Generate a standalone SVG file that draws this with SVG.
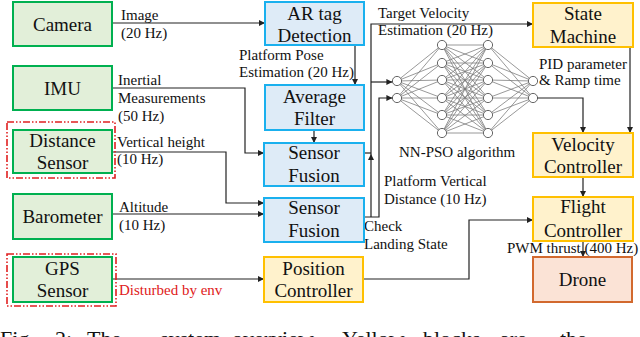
<svg xmlns="http://www.w3.org/2000/svg" width="640" height="337" viewBox="0 0 640 337">
<style>
  text { font-family: "Liberation Serif", "Times New Roman", serif; fill: #111; }
  .nl { font-size: 19px; text-anchor: middle; }
  .el { font-size: 15px; }
  .red { fill: #e02020; }
  .g { fill: #e2efd9; stroke: #00b050; stroke-width: 2; }
  .b { fill: #deebf7; stroke: #1ab0ee; stroke-width: 2; }
  .y { fill: #fff2cc; stroke: #ffc000; stroke-width: 2; }
  .o { fill: #fbe3d6; stroke: #d2692e; stroke-width: 2; }
  .dd { fill: none; stroke: #e02020; stroke-width: 1.6; stroke-dasharray: 7 2 1.5 2 1.5 2; }
  .c { fill: none; stroke: #222; stroke-width: 1.2; }
  .nn line { stroke: #777; stroke-width: 0.75; }
  .nn circle { fill: #fff; stroke: #666; stroke-width: 1; }
  .cap { font-size: 22px; }
</style>
<defs>
  <marker id="ah" viewBox="0 0 10 10" refX="10" refY="5" markerWidth="7" markerHeight="6" markerUnits="userSpaceOnUse" orient="auto">
    <path d="M0,0 L10,5 L0,10 z" fill="#222"/>
  </marker>
</defs>

<!-- Neural network -->
<g id="nn" class="nn">
  <g id="nn-links">
    <line x1="397" y1="81" x2="442" y2="45"/><line x1="397" y1="81" x2="442" y2="63"/><line x1="397" y1="81" x2="442" y2="80"/><line x1="397" y1="81" x2="442" y2="98"/><line x1="397" y1="81" x2="442" y2="115"/><line x1="397" y1="81" x2="442" y2="133"/>
    <line x1="397" y1="98" x2="442" y2="45"/><line x1="397" y1="98" x2="442" y2="63"/><line x1="397" y1="98" x2="442" y2="80"/><line x1="397" y1="98" x2="442" y2="98"/><line x1="397" y1="98" x2="442" y2="115"/><line x1="397" y1="98" x2="442" y2="133"/>
    <line x1="442" y1="45" x2="488" y2="45"/><line x1="442" y1="45" x2="488" y2="63"/><line x1="442" y1="45" x2="488" y2="80"/><line x1="442" y1="45" x2="488" y2="98"/><line x1="442" y1="45" x2="488" y2="115"/><line x1="442" y1="45" x2="488" y2="133"/>
    <line x1="442" y1="63" x2="488" y2="45"/><line x1="442" y1="63" x2="488" y2="63"/><line x1="442" y1="63" x2="488" y2="80"/><line x1="442" y1="63" x2="488" y2="98"/><line x1="442" y1="63" x2="488" y2="115"/><line x1="442" y1="63" x2="488" y2="133"/>
    <line x1="442" y1="80" x2="488" y2="45"/><line x1="442" y1="80" x2="488" y2="63"/><line x1="442" y1="80" x2="488" y2="80"/><line x1="442" y1="80" x2="488" y2="98"/><line x1="442" y1="80" x2="488" y2="115"/><line x1="442" y1="80" x2="488" y2="133"/>
    <line x1="442" y1="98" x2="488" y2="45"/><line x1="442" y1="98" x2="488" y2="63"/><line x1="442" y1="98" x2="488" y2="80"/><line x1="442" y1="98" x2="488" y2="98"/><line x1="442" y1="98" x2="488" y2="115"/><line x1="442" y1="98" x2="488" y2="133"/>
    <line x1="442" y1="115" x2="488" y2="45"/><line x1="442" y1="115" x2="488" y2="63"/><line x1="442" y1="115" x2="488" y2="80"/><line x1="442" y1="115" x2="488" y2="98"/><line x1="442" y1="115" x2="488" y2="115"/><line x1="442" y1="115" x2="488" y2="133"/>
    <line x1="442" y1="133" x2="488" y2="45"/><line x1="442" y1="133" x2="488" y2="63"/><line x1="442" y1="133" x2="488" y2="80"/><line x1="442" y1="133" x2="488" y2="98"/><line x1="442" y1="133" x2="488" y2="115"/><line x1="442" y1="133" x2="488" y2="133"/>
    <line x1="488" y1="45" x2="533" y2="81"/><line x1="488" y1="63" x2="533" y2="81"/><line x1="488" y1="80" x2="533" y2="81"/><line x1="488" y1="98" x2="533" y2="81"/><line x1="488" y1="115" x2="533" y2="81"/><line x1="488" y1="133" x2="533" y2="81"/>
    <line x1="488" y1="45" x2="533" y2="98"/><line x1="488" y1="63" x2="533" y2="98"/><line x1="488" y1="80" x2="533" y2="98"/><line x1="488" y1="98" x2="533" y2="98"/><line x1="488" y1="115" x2="533" y2="98"/><line x1="488" y1="133" x2="533" y2="98"/>
  </g>
  <g id="nn-nodes">
    <circle cx="397" cy="81" r="4.6"/><circle cx="397" cy="98" r="4.6"/>
    <circle cx="442" cy="45" r="4.6"/><circle cx="442" cy="63" r="4.6"/><circle cx="442" cy="80" r="4.6"/><circle cx="442" cy="98" r="4.6"/><circle cx="442" cy="115" r="4.6"/><circle cx="442" cy="133" r="4.6"/>
    <circle cx="488" cy="45" r="4.6"/><circle cx="488" cy="63" r="4.6"/><circle cx="488" cy="80" r="4.6"/><circle cx="488" cy="98" r="4.6"/><circle cx="488" cy="115" r="4.6"/><circle cx="488" cy="133" r="4.6"/>
    <circle cx="533" cy="81" r="4.6"/><circle cx="533" cy="98" r="4.6"/>
  </g>
  <text class="el" x="399" y="157">NN-PSO algorithm</text>
</g>

<!-- Connectors -->
<g id="connectors">
  <path class="c" d="M112,23 H265" marker-end="url(#ah)"/>
  <path class="c" d="M112,88 H245 V153 H264" marker-end="url(#ah)"/>
  <path class="c" d="M112,152 H226 V203 H264" marker-end="url(#ah)"/>
  <path class="c" d="M112,214 H264" marker-end="url(#ah)"/>
  <path class="c" d="M112,279 H264" marker-end="url(#ah)"/>
  <path class="c" d="M355,45 V85" marker-end="url(#ah)"/>
  <path class="c" d="M314,130 V143" marker-end="url(#ah)"/>
  <path class="c" d="M364,153 H371"/>
  <path class="c" d="M364,217 H379 V98 H392.4" marker-end="url(#ah)"/>
  <path class="c" d="M371,217 V154" marker-end="url(#ah)"/>
  <path class="c" d="M371,154 V24 H533" marker-end="url(#ah)"/>
  <path class="c" d="M371,82 H392.4" marker-end="url(#ah)"/>
  <path class="c" d="M537.6,98 H583 V133" marker-end="url(#ah)"/>
  <path class="c" d="M630,47 V133" marker-end="url(#ah)"/>
  <path class="c" d="M583,177 V197" marker-end="url(#ah)"/>
  <path class="c" d="M583,241 V257" marker-end="url(#ah)"/>
  <path class="c" d="M363,279 H469 V220 H533" marker-end="url(#ah)"/>

  <text class="el" x="121" y="20">Image</text>
  <text class="el" x="121" y="38">(20 Hz)</text>
  <text class="el" x="118" y="85">Inertial</text>
  <text class="el" x="118" y="103">Measurements</text>
  <text class="el" x="118" y="121">(50 Hz)</text>
  <text class="el" x="117" y="147">Vertical height</text>
  <text class="el" x="117" y="164">(10 Hz)</text>
  <text class="el" x="119" y="212">Altitude</text>
  <text class="el" x="119" y="230">(10 Hz)</text>
  <text class="el red" x="119" y="295">Disturbed by env</text>
  <text class="el" x="239" y="60">Platform Pose</text>
  <text class="el" x="239" y="77">Estimation (20 Hz)</text>
  <text class="el" x="378" y="18">Target Velocity</text>
  <text class="el" x="378" y="35">Estimation (20 Hz)</text>
  <text class="el" x="539" y="69">PID parameter</text>
  <text class="el" x="539" y="85">&amp; Ramp time</text>
  <text class="el" x="384" y="186">Platform Vertical</text>
  <text class="el" x="384" y="204">Distance (10 Hz)</text>
  <text class="el" x="364" y="231">Check</text>
  <text class="el" x="364" y="249">Landing State</text>
  <text class="el" x="507" y="253">PWM thrust (400 Hz)</text>
</g>

<!-- Sensor nodes -->
<g id="camera"><rect class="g" x="13" y="2" width="99" height="44"/><text class="nl" x="62.5" y="30.5">Camera</text></g>
<g id="imu"><rect class="g" x="13" y="66" width="99" height="44"/><text class="nl" x="62.5" y="94.5">IMU</text></g>
<g id="distance-sensor">
  <rect class="dd" x="7" y="122" width="108" height="56"/>
  <rect class="g" x="13" y="130" width="99" height="43"/>
  <text class="nl" x="62.5" y="147">Distance</text><text class="nl" x="62.5" y="169">Sensor</text>
</g>
<g id="barometer"><rect class="g" x="13" y="194" width="99" height="45"/><text class="nl" x="62.5" y="223">Barometer</text></g>
<g id="gps-sensor">
  <rect class="dd" x="7" y="254" width="109" height="52"/>
  <rect class="g" x="13" y="257" width="99" height="45"/>
  <text class="nl" x="62.5" y="275">GPS</text><text class="nl" x="62.5" y="297">Sensor</text>
</g>

<!-- Processing nodes -->
<g id="ar-tag"><rect class="b" x="265" y="2" width="99" height="43"/><text class="nl" x="314.5" y="20">AR tag</text><text class="nl" x="314.5" y="42">Detection</text></g>
<g id="average-filter"><rect class="b" x="265" y="85" width="99" height="45"/><text class="nl" x="314.5" y="103">Average</text><text class="nl" x="314.5" y="125">Filter</text></g>
<g id="sensor-fusion-1"><rect class="b" x="264" y="143" width="100" height="43"/><text class="nl" x="314" y="159">Sensor</text><text class="nl" x="314" y="182">Fusion</text></g>
<g id="sensor-fusion-2"><rect class="b" x="264" y="198" width="100" height="44"/><text class="nl" x="314" y="214">Sensor</text><text class="nl" x="314" y="237">Fusion</text></g>
<g id="position-controller"><rect class="y" x="264" y="257" width="99" height="45"/><text class="nl" x="313.5" y="275">Position</text><text class="nl" x="313.5" y="297">Controller</text></g>

<!-- Control nodes -->
<g id="state-machine"><rect class="y" x="533" y="3" width="100" height="44"/><text class="nl" x="583" y="20">State</text><text class="nl" x="583" y="43">Machine</text></g>
<g id="velocity-controller"><rect class="y" x="533" y="133" width="100" height="44"/><text class="nl" x="583" y="151">Velocity</text><text class="nl" x="583" y="173">Controller</text></g>
<g id="flight-controller"><rect class="y" x="533" y="197" width="100" height="44"/><text class="nl" x="583" y="213">Flight</text><text class="nl" x="583" y="237">Controller</text></g>
<g id="drone"><rect class="o" x="533" y="257" width="99" height="45"/><text class="nl" x="582.5" y="286">Drone</text></g>

<!-- Caption (cut off at bottom) -->
<text class="cap" y="346"><tspan x="0">Fig.</tspan><tspan x="55">2:</tspan><tspan x="87">The</tspan><tspan x="160">system</tspan><tspan x="232">overview.</tspan><tspan x="342">Yellow</tspan><tspan x="423">blocks</tspan><tspan x="500">are</tspan><tspan x="560">the</tspan></text>
</svg>
